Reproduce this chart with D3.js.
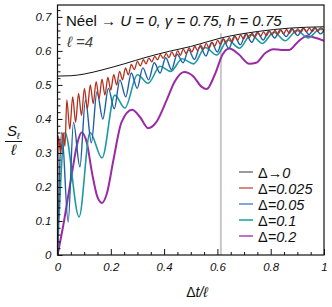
<!DOCTYPE html>
<html>
<head>
<meta charset="utf-8">
<script src="https://cdn.jsdelivr.net/npm/d3@7/dist/d3.min.js"></script>
<style>
  body { margin: 0; background: #fff; }
  svg text { font-family: "Liberation Sans", Arial, Helvetica, sans-serif; fill: #111; }
</style>
</head>
<body>
<svg id="chart" width="332" height="307"></svg>
<script>
// ── Data ([Δt/ℓ, S_ℓ/ℓ]) ──────────────────────────────────────────────────
const xTicks = [0, 0.2, 0.4, 0.6, 0.8, 1];
const xTickLabels = ['0', '0.2', '0.4', '0.6', '0.8', '1'];
const yTicks = [0, 0.1, 0.2, 0.3, 0.4, 0.5, 0.6, 0.7];
const yTickLabels = ['0', '0.1', '0.2', '0.3', '0.4', '0.5', '0.6', '0.7'];
const seriesNames = ['Δ→0', 'Δ=0.025', 'Δ=0.05', 'Δ=0.1', 'Δ=0.2'];
const markerX = 0.613;
const markerTop = 0.652;

const limitPts = [
  [0, 0.526], [0.05, 0.527], [0.1, 0.532], [0.167, 0.544], [0.25, 0.562],
  [0.336, 0.582], [0.42, 0.599], [0.5, 0.613], [0.613, 0.638], [0.75, 0.657],
  [0.87, 0.667], [1.0, 0.671]
];

const d025Pts = [
  [0, 0], [0.003, 0.35], [0.012, 0.30], [0.021, 0.36], [0.028, 0.32],
  [0.035, 0.456], [0.046, 0.37], [0.057, 0.465], [0.068, 0.39], [0.079, 0.475],
  [0.090, 0.41], [0.101, 0.49], [0.112, 0.43], [0.123, 0.50], [0.134, 0.445],
  [0.145, 0.51], [0.156, 0.46], [0.167, 0.517], [0.178, 0.47], [0.189, 0.522],
  [0.200, 0.485], [0.211, 0.53], [0.222, 0.50], [0.233, 0.54], [0.244, 0.515],
  [0.255, 0.55], [0.266, 0.53], [0.277, 0.56], [0.288, 0.545], [0.300, 0.569],
  [0.311, 0.556], [0.322, 0.574], [0.332, 0.562], [0.343, 0.579], [0.354, 0.568],
  [0.365, 0.584], [0.375, 0.574], [0.386, 0.589], [0.397, 0.578], [0.408, 0.593],
  [0.418, 0.580], [0.429, 0.597], [0.440, 0.583], [0.451, 0.601], [0.461, 0.587],
  [0.472, 0.605], [0.483, 0.592], [0.494, 0.609], [0.504, 0.597], [0.515, 0.613],
  [0.526, 0.601], [0.537, 0.618], [0.547, 0.605], [0.558, 0.622], [0.569, 0.609],
  [0.580, 0.626], [0.590, 0.614], [0.601, 0.631], [0.612, 0.619], [0.623, 0.635],
  [0.633, 0.623], [0.644, 0.639], [0.655, 0.627], [0.666, 0.643], [0.676, 0.631],
  [0.687, 0.647], [0.698, 0.635], [0.709, 0.650], [0.719, 0.638], [0.730, 0.652],
  [0.741, 0.641], [0.752, 0.654], [0.762, 0.643], [0.773, 0.656], [0.784, 0.645],
  [0.795, 0.658], [0.805, 0.647], [0.816, 0.660], [0.827, 0.649], [0.838, 0.661],
  [0.848, 0.650], [0.859, 0.663], [0.870, 0.652], [0.881, 0.664], [0.891, 0.653],
  [0.902, 0.665], [0.913, 0.655], [0.924, 0.666], [0.934, 0.656], [0.945, 0.667],
  [0.956, 0.657], [0.967, 0.667], [0.977, 0.658], [0.988, 0.668], [1.0, 0.660]
];

const d05Pts = [
  [0, 0], [0.016, 0.36], [0.040, 0.097], [0.060, 0.39], [0.084, 0.259],
  [0.105, 0.456], [0.127, 0.33], [0.148, 0.48], [0.170, 0.40], [0.191, 0.49],
  [0.213, 0.43], [0.234, 0.515], [0.256, 0.465], [0.277, 0.535], [0.299, 0.49],
  [0.320, 0.55], [0.342, 0.515], [0.363, 0.565], [0.385, 0.535], [0.406, 0.58],
  [0.428, 0.545], [0.449, 0.59], [0.471, 0.565], [0.492, 0.603], [0.514, 0.575],
  [0.535, 0.613], [0.557, 0.585], [0.578, 0.625], [0.600, 0.597], [0.621, 0.635],
  [0.643, 0.607], [0.664, 0.644], [0.686, 0.618], [0.707, 0.650], [0.729, 0.625],
  [0.750, 0.655], [0.772, 0.632], [0.793, 0.659], [0.815, 0.638], [0.836, 0.662],
  [0.858, 0.642], [0.879, 0.665], [0.901, 0.645], [0.922, 0.667], [0.944, 0.648],
  [0.965, 0.668], [0.987, 0.650], [1.0, 0.660]
];

const d1Pts = [
  [0, 0], [0.028, 0.36], [0.081, 0.112], [0.122, 0.36], [0.167, 0.285],
  [0.215, 0.47], [0.253, 0.432], [0.300, 0.53], [0.340, 0.505], [0.385, 0.555],
  [0.425, 0.54], [0.468, 0.577], [0.511, 0.562], [0.555, 0.61], [0.597, 0.588],
  [0.640, 0.632], [0.683, 0.608], [0.726, 0.648], [0.769, 0.622], [0.812, 0.655],
  [0.855, 0.630], [0.898, 0.660], [0.941, 0.638], [0.984, 0.664], [1.0, 0.662]
];

const d2Pts = [
  [0, 0], [0.02, 0.08], [0.05, 0.22], [0.075, 0.33], [0.09, 0.36],
  [0.11, 0.33], [0.13, 0.24], [0.15, 0.17], [0.167, 0.153], [0.185, 0.18],
  [0.21, 0.28], [0.24, 0.39], [0.28, 0.427], [0.31, 0.405], [0.34, 0.373],
  [0.37, 0.39], [0.41, 0.456], [0.44, 0.51], [0.475, 0.538], [0.51, 0.525],
  [0.54, 0.495], [0.56, 0.488], [0.59, 0.53], [0.62, 0.59], [0.645, 0.607],
  [0.68, 0.59], [0.72, 0.562], [0.745, 0.565], [0.78, 0.594], [0.81, 0.605],
  [0.84, 0.603], [0.87, 0.603], [0.90, 0.625], [0.936, 0.644], [0.97, 0.638],
  [1.0, 0.630]
];

// ── Layout ─────────────────────────────────────────────────────────────
const M = { left: 57.5, right: 324, top: 5, bottom: 255 };
const svg = d3.select('#chart');

const x = d3.scaleLinear().domain([0, 1]).range([M.left, M.right]);
const y = d3.scaleLinear().domain([0, 0.735]).range([M.bottom, M.top]);

svg.append('defs').append('clipPath').attr('id', 'plot-clip')
  .append('rect')
  .attr('x', M.left).attr('y', M.top)
  .attr('width', M.right - M.left).attr('height', M.bottom - M.top);

// vertical marker
svg.append('line')
  .attr('x1', x(markerX)).attr('x2', x(markerX))
  .attr('y1', y(0)).attr('y2', y(markerTop))
  .attr('stroke', '#c8c8c8').attr('stroke-width', 2);

// ── Curves ─────────────────────────────────────────────────────────────
const line = d3.line()
  .x(d => x(d[0])).y(d => y(d[1]))
  .curve(d3.curveMonotoneX);

const curves = [
  { pts: d2Pts,    color: '#9a2aa6', w: 2.0 },
  { pts: d1Pts,    color: '#1b9aa2', w: 1.6 },
  { pts: d05Pts,   color: '#1f5fa6', w: 1.4 },
  { pts: d025Pts,  color: '#b3301c', w: 1.3 },
  { pts: limitPts, color: '#111111', w: 1.0 }
];

const plotG = svg.append('g').attr('clip-path', 'url(#plot-clip)');
curves.forEach(c => {
  plotG.append('path')
    .datum(c.pts)
    .attr('d', line)
    .attr('fill', 'none')
    .attr('stroke', c.color)
    .attr('stroke-width', c.w)
    .attr('stroke-linejoin', 'round');
});

// ── Axes (ticks point inward) ──────────────────────────────────────────
const xMinor = d3.range(0, 1.0001, 0.05).filter(v => !xTicks.some(t => Math.abs(t - v) < 1e-6));
const yMinor = d3.range(0, 0.7301, 0.02).filter(v => !yTicks.some(t => Math.abs(t - v) < 1e-6));

svg.append('g')
  .attr('transform', `translate(0, ${M.bottom})`)
  .call(d3.axisBottom(x).tickValues(xTicks).tickSize(-6).tickPadding(8)
    .tickFormat((d, i) => xTickLabels[i]));
svg.append('g')
  .attr('transform', `translate(0, ${M.bottom})`)
  .call(d3.axisBottom(x).tickValues(xMinor).tickSize(-3).tickFormat(''));

svg.append('g')
  .attr('transform', `translate(${M.left}, 0)`)
  .call(d3.axisLeft(y).tickValues(yTicks).tickSize(-5).tickPadding(6)
    .tickFormat((d, i) => yTickLabels[i]));
svg.append('g')
  .attr('transform', `translate(${M.left}, 0)`)
  .call(d3.axisLeft(y).tickValues(yMinor).tickSize(-3).tickFormat(''));

svg.selectAll('.domain').remove();
svg.selectAll('.tick line').attr('stroke', '#111').attr('stroke-width', 1);
svg.selectAll('.tick text')
  .attr('font-size', 11.5).attr('font-style', 'italic')
  .attr('fill', '#111').attr('font-family', '"Liberation Sans", Arial, sans-serif');

// frame
svg.append('rect')
  .attr('x', M.left).attr('y', M.top)
  .attr('width', M.right - M.left).attr('height', M.bottom - M.top)
  .attr('fill', 'none').attr('stroke', '#111').attr('stroke-width', 1.2);

// ── Titles ─────────────────────────────────────────────────────────────
const title = svg.append('text').attr('x', 66).attr('y', 26).attr('font-size', 15);
title.append('tspan').text('Néel ');
title.append('tspan').attr('font-weight', 'bold').text('→');
title.append('tspan').text(' ');
title.append('tspan').attr('font-style', 'italic').text('U = 0, γ = 0.75, h = 0.75');

svg.append('text')
  .attr('x', 67).attr('y', 47).attr('font-size', 15)
  .attr('font-style', 'italic').style('fill', '#444')
  .text('ℓ =4');

// x title
const xt = svg.append('text')
  .attr('x', 197).attr('y', 297).attr('font-size', 14).attr('text-anchor', 'middle');
xt.append('tspan').text('Δ');
xt.append('tspan').attr('font-style', 'italic').text('t/ℓ');

// y title as a fraction
const yt = svg.append('text').attr('x', 7).attr('y', 136).attr('font-size', 15)
  .attr('font-style', 'italic');
yt.append('tspan').text('S');
yt.append('tspan').attr('font-size', 9).attr('dy', 3).text('ℓ');
svg.append('line')
  .attr('x1', 5).attr('x2', 22).attr('y1', 141.5).attr('y2', 141.5)
  .attr('stroke', '#111').attr('stroke-width', 1);
svg.append('text').attr('x', 13.5).attr('y', 155).attr('font-size', 15)
  .attr('font-style', 'italic').attr('text-anchor', 'middle').text('ℓ');

// ── Legend ─────────────────────────────────────────────────────────────
const legendColors = ['#9a9a9a', '#d88a80', '#7fa8d2', '#4db8b8', '#c46fcb'];
const legG = svg.append('g').attr('transform', 'translate(239, 172)');
seriesNames.forEach((name, i) => {
  const row = legG.append('g').attr('transform', `translate(0, ${i * 16})`);
  row.append('line')
    .attr('x1', 0).attr('x2', 14).attr('y1', 0).attr('y2', 0)
    .attr('stroke', legendColors[i]).attr('stroke-width', 2);
  const t = row.append('text').attr('x', 19).attr('y', 5.5).attr('font-size', 14.5);
  t.append('tspan').text(name.slice(0, 1));
  t.append('tspan').attr('font-style', 'italic').text(name.slice(1));
});
</script>
</body>
</html>
